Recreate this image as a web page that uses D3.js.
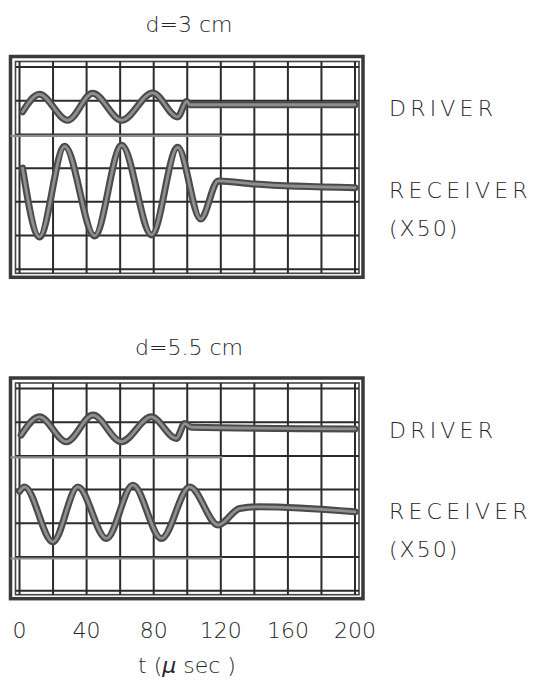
<!DOCTYPE html>
<html><head><meta charset="utf-8">
<script src="https://cdn.jsdelivr.net/npm/d3@7"></script>
<style>
html,body{margin:0;padding:0;background:#fff;}
svg text{font-family:"DejaVu Sans",sans-serif;fill:#262626;font-weight:300;}
</style></head>
<body>
<svg id="c" width="536" height="685"></svg>
<script>
// ---- data ----
const tickLabels = [0, 40, 80, 120, 160, 200];
const gridT = [0,20,40,60,80,100,120,140,160,180,200];
const gridV = [-3,-2,-1,0,1,2,3];
const panelTitles = ["d=3 cm", "d=5.5 cm"];
const traceLabels = ["DRIVER", "RECEIVER", "(X50)"];
const xTitleParts = ["t (", "\u03bc", " sec )"];

// panel 1 (d=3 cm)
const p1DriverT   = [1.8, 11.9, 28.7, 43.6, 60.9, 79.4, 94.3, 99.7, 101.5, 200];
const p1DriverV   = [1.67, 2.19, 1.42, 2.22, 1.42, 2.23, 1.52, 1.98, 1.88, 1.88];
const p1ReceiverT = [1.8, 11.9, 26.9, 44.8, 60.9, 78.8, 94.3, 108, 118.5, 140, 200];
const p1ReceiverV = [0.0, -2.04, 0.65, -2.01, 0.68, -1.98, 0.62, -1.51, -0.38, -0.47, -0.58];

// panel 2 (d=5.5 cm)
const p2DriverT   = [1.0, 11.9, 27.9, 43.8, 60.7, 78.6, 93.5, 98.5, 102.5, 200];
const p2DriverV   = [1.62, 2.16, 1.42, 2.21, 1.42, 2.16, 1.52, 1.96, 1.85, 1.80];
const p2ReceiverT = [0.0, 3.0, 19.9, 34.8, 51.8, 67.6, 84.6, 101.5, 118.4, 131.3, 143.3, 200];
const p2ReceiverV = [-0.05, 0.08, -1.55, 0.08, -1.45, 0.13, -1.45, 0.08, -1.05, -0.56, -0.51, -0.66];

// ---- layout ----
const svg = d3.select("#c");
const gx0 = 19.5, gx1 = 355;
const panels = [
  {top: 67, bottom: 269.3, title: panelTitles[0], titleY: 32, lightV: [1],
   driver: [p1DriverT, p1DriverV], receiver: [p1ReceiverT, p1ReceiverV],
   labY: [116, 198, 236]},
  {top: 388.5, bottom: 590.7, title: panelTitles[1], titleY: 355, lightV: [1, -2],
   driver: [p2DriverT, p2DriverV], receiver: [p2ReceiverT, p2ReceiverV],
   labY: [438, 519, 557]}
];

const x = d3.scaleLinear().domain([0, 200]).range([gx0, gx1]);

panels.forEach(p => {
  const y = d3.scaleLinear().domain([-3, 3]).range([p.bottom, p.top]);
  const g = svg.append("g");

  // frame
  g.append("rect").attr("x", gx0 - 9).attr("y", p.top - 10.5)
    .attr("width", (gx1 + 8) - (gx0 - 9)).attr("height", (p.bottom + 8) - (p.top - 10.5))
    .attr("fill", "none").attr("stroke", "#3a3a3a").attr("stroke-width", 3.5);
  g.append("rect").attr("x", gx0 - 4).attr("y", p.top - 5.5)
    .attr("width", (gx1 + 4) - (gx0 - 4)).attr("height", (p.bottom + 4) - (p.top - 5.5))
    .attr("fill", "none").attr("stroke", "#444").attr("stroke-width", 1.6);

  // grid
  g.selectAll(".vg").data(gridT).join("line")
    .attr("x1", d => x(d)).attr("x2", d => x(d))
    .attr("y1", p.top - 5.5).attr("y2", p.bottom + 4)
    .attr("stroke", "#2b2b2b").attr("stroke-width", 2);
  g.selectAll(".hg").data(gridV).join("line")
    .attr("y1", d => y(d)).attr("y2", d => y(d))
    .attr("x1", gx0 - 4).attr("x2", gx1 + 4)
    .attr("stroke", "#2b2b2b").attr("stroke-width", 2);
  // lighter scan streaks on some grid rows
  g.selectAll(".lg").data(p.lightV).join("line")
    .attr("y1", d => y(d) + 1.5).attr("y2", d => y(d) + 1.5)
    .attr("x1", gx0 - 9).attr("x2", x(121))
    .attr("stroke", "#8d8d8d").attr("stroke-width", 2.2);

  // traces
  const line = d3.line().x(d => x(d[0])).y(d => y(d[1])).curve(d3.curveMonotoneX);
  [p.driver, p.receiver].forEach(s => {
    const pts = s[0].map((t, i) => [t, s[1][i]]);
    g.append("path").attr("d", line(pts)).attr("fill", "none")
      .attr("stroke", "#4a4a4a").attr("stroke-width", 7)
      .attr("stroke-linecap", "round").attr("stroke-linejoin", "round");
    g.append("path").attr("d", line(pts)).attr("fill", "none")
      .attr("stroke", "#8f8f8f").attr("stroke-width", 2.8)
      .attr("stroke-linecap", "round").attr("stroke-linejoin", "round");
  });

  // title
  g.append("text").attr("x", 189).attr("y", p.titleY).attr("text-anchor", "middle")
    .attr("font-size", 22).text(p.title);

  // trace labels
  traceLabels.forEach((t, i) => {
    g.append("text").attr("x", 389).attr("y", p.labY[i])
      .attr("font-size", 22).attr("letter-spacing", i === 2 ? 2 : 4.2).text(t);
  });
});

// x tick labels
svg.selectAll(".tl").data(tickLabels).join("text")
  .attr("x", d => x(d)).attr("y", 638).attr("text-anchor", "middle")
  .attr("font-size", 22).text(d => d);
const xt = svg.append("text").attr("x", 187).attr("y", 673).attr("text-anchor", "middle")
  .attr("font-size", 22);
xt.selectAll("tspan").data(xTitleParts).join("tspan")
  .attr("font-style", (d, i) => i === 1 ? "italic" : "normal").text(d => d);
</script>
</body></html>
